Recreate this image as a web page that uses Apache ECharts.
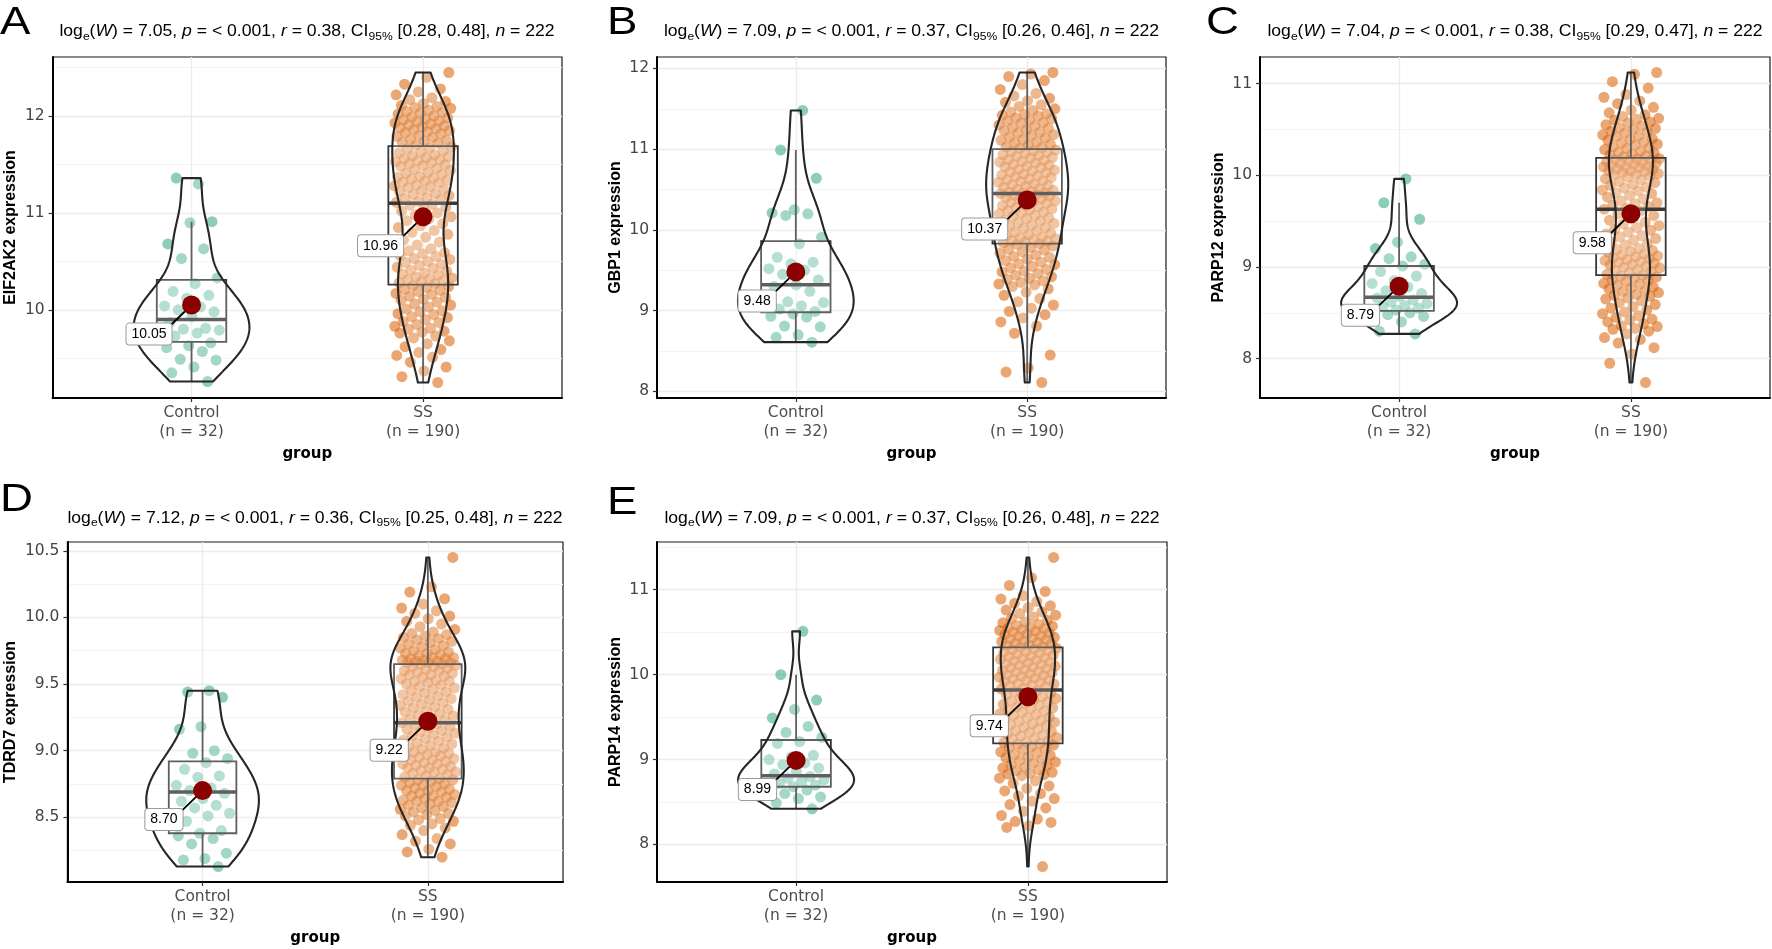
<!DOCTYPE html>
<html><head><meta charset="utf-8">
<script src="https://cdn.jsdelivr.net/npm/echarts@6/dist/echarts.min.js"></script>
<style>html,body{margin:0;padding:0;background:#fff}#chart{width:1772px;height:949px}</style>
</head><body><div id="chart"></div>
<script>
// ---------------- DATA ----------------
const categories = ['Control', 'SS'];
const groupSizes = [32, 190];
const panelLetters = ['A', 'B', 'C', 'D', 'E'];
const genes = ['EIF2AK2', 'GBP1', 'PARP12', 'TDRD7', 'PARP14'];
const statLogW = ['7.05', '7.09', '7.04', '7.12', '7.09'];
const statP = ['< 0.001', '< 0.001', '< 0.001', '< 0.001', '< 0.001'];
const statR = ['0.38', '0.37', '0.38', '0.36', '0.37'];
const statCILow = ['0.28', '0.26', '0.29', '0.25', '0.26'];
const statCIHigh = ['0.48', '0.46', '0.47', '0.48', '0.48'];
const statN = ['222', '222', '222', '222', '222'];

const meanValues = [[10.05, 10.96], [9.48, 10.37], [8.79, 9.58], [8.70, 9.22], [8.99, 9.74]];
const boxQ1 = [[9.67, 10.26], [8.98, 9.83], [8.52, 8.91], [8.38, 8.79], [8.68, 9.19]];
const boxMedian = [[9.90, 11.10], [9.32, 10.45], [8.67, 9.63], [8.69, 9.21], [8.81, 9.82]];
const boxQ3 = [[10.31, 11.69], [9.86, 11.00], [9.01, 10.19], [8.92, 9.65], [9.23, 10.32]];
const whiskerLow = [[9.26, 9.25], [8.61, 8.11], [8.28, 7.74], [8.13, 8.20], [8.42, 7.74]];
const whiskerHigh = [[10.91, 12.45], [10.99, 11.95], [9.70, 11.12], [9.45, 10.45], [10.00, 11.38]];

const yTickLabels = [
  ['10', '11', '12'],
  ['8', '9', '10', '11', '12'],
  ['8', '9', '10', '11'],
  ['8.5', '9.0', '9.5', '10.0', '10.5'],
  ['8', '9', '10', '11']
];
const yMinorBreaks = [
  [9.5, 10.5, 11.5, 12.5],
  [8.5, 9.5, 10.5, 11.5],
  [8.5, 9.5, 10.5],
  [8.25, 8.75, 9.25, 9.75, 10.25],
  [8.5, 9.5, 10.5, 11.5]
];

const eif2ak2Control = [11.30, 11.36, 10.91, 10.90, 10.68, 10.63, 10.53, 10.33, 10.27, 10.19, 10.15, 10.12, 10.04, 10.03, 10.00, 9.98, 9.93, 9.87, 9.81, 9.80, 9.79, 9.76, 9.73, 9.66, 9.63, 9.61, 9.57, 9.49, 9.48, 9.41, 9.35, 9.26];
const eif2ak2SS = [12.45, 12.40, 12.33,
  12.28, 12.25, 12.22, 12.19, 12.17, 12.15, 12.13, 12.11, 12.10,
  12.09, 12.08, 12.06, 12.05, 12.04, 12.03, 12.02, 12.00, 11.99, 11.98, 11.97, 11.96, 11.95, 11.94, 11.93, 11.92, 11.91, 11.90,
  11.89, 11.88, 11.87, 11.86, 11.85, 11.84, 11.83, 11.82, 11.80, 11.79, 11.78, 11.76, 11.75, 11.74, 11.73, 11.72, 11.70,
  11.68, 11.67, 11.66, 11.64, 11.63, 11.62, 11.60, 11.59, 11.58, 11.57, 11.56, 11.55, 11.54, 11.53, 11.52, 11.51, 11.50,
  11.49, 11.48, 11.46, 11.45, 11.44, 11.42, 11.41, 11.40, 11.38, 11.37, 11.36, 11.35, 11.34, 11.33, 11.32, 11.31,
  11.29, 11.28, 11.27, 11.26, 11.24, 11.23, 11.22, 11.20, 11.19, 11.18, 11.16, 11.15, 11.14, 11.12, 11.11,
  11.09, 11.08, 11.06, 11.04, 11.02, 11.00, 10.98, 10.96, 10.94, 10.92,
  10.89, 10.87, 10.85, 10.82, 10.80, 10.78, 10.75, 10.72, 10.70, 10.67, 10.65, 10.63, 10.61,
  10.59, 10.58, 10.56, 10.55, 10.53, 10.52, 10.50, 10.49, 10.47, 10.46, 10.44, 10.43, 10.41, 10.40, 10.38, 10.37, 10.36, 10.34, 10.33, 10.32, 10.31, 10.30, 10.29, 10.28, 10.27,
  10.25, 10.24, 10.23, 10.21, 10.20, 10.19, 10.17, 10.16, 10.14, 10.13, 10.11, 10.10, 10.08, 10.06, 10.05, 10.03, 10.01,
  9.99, 9.98, 9.96, 9.95, 9.93, 9.92, 9.90, 9.88, 9.87, 9.85, 9.83, 9.81, 9.80, 9.78, 9.77, 9.76,
  9.73, 9.71, 9.68, 9.65, 9.62, 9.59, 9.56, 9.53, 9.51,
  9.46, 9.41, 9.37, 9.31, 9.25];

const gbp1Control = [11.48, 10.99, 10.64, 10.25, 10.21, 10.20, 10.18, 9.91, 9.83, 9.66, 9.60, 9.58, 9.52, 9.50, 9.45, 9.38, 9.32, 9.30, 9.24, 9.11, 9.10, 9.06, 9.02, 8.99, 8.96, 8.93, 8.92, 8.81, 8.80, 8.70, 8.67, 8.61];
const gbp1SS = [11.95, 11.93, 11.90, 11.85, 11.80, 11.74,
  11.69, 11.66, 11.63, 11.60, 11.58, 11.55, 11.53, 11.50, 11.48, 11.46, 11.44, 11.43, 11.42, 11.41,
  11.39, 11.38, 11.36, 11.35, 11.33, 11.32, 11.30, 11.29, 11.27, 11.26, 11.24, 11.23, 11.21, 11.20, 11.18, 11.17, 11.15, 11.14, 11.12, 11.11, 11.09, 11.08, 11.06, 11.05, 11.03, 11.02, 11.01,
  10.99, 10.98, 10.97, 10.96, 10.95, 10.93, 10.92, 10.91, 10.90, 10.89, 10.87, 10.86, 10.85, 10.84, 10.83, 10.81, 10.80, 10.79, 10.78, 10.77, 10.75, 10.74, 10.73, 10.72, 10.71, 10.69, 10.68, 10.67, 10.66, 10.65, 10.63, 10.62, 10.61, 10.60, 10.59, 10.57, 10.56, 10.55, 10.54, 10.53, 10.51, 10.50, 10.49, 10.48, 10.47, 10.46, 10.46, 10.45,
  10.44, 10.43, 10.42, 10.41, 10.40, 10.39, 10.38, 10.36, 10.35, 10.34, 10.33, 10.31, 10.30, 10.29, 10.28, 10.26, 10.25, 10.24, 10.22, 10.21, 10.20, 10.18, 10.17, 10.15, 10.14, 10.12, 10.11, 10.09, 10.08, 10.06, 10.05, 10.03, 10.02, 10.00, 9.99, 9.97, 9.96, 9.94, 9.93, 9.91, 9.90, 9.89, 9.88, 9.87, 9.86, 9.85, 9.84, 9.83,
  9.82, 9.80, 9.78, 9.76, 9.75, 9.73, 9.71, 9.69, 9.67, 9.66, 9.64, 9.62, 9.60, 9.58, 9.57, 9.55, 9.53, 9.51, 9.49, 9.48, 9.46, 9.44, 9.42, 9.40, 9.39, 9.37, 9.35, 9.33, 9.32, 9.30,
  9.27, 9.23, 9.19, 9.15, 9.11, 9.07, 9.03, 8.99, 8.95, 8.91, 8.86, 8.81,
  8.72, 8.45, 8.29, 8.24, 8.11];

const parp12Control = [9.96, 9.70, 9.52, 9.27, 9.20, 9.11, 9.09, 9.03, 9.01, 8.95, 8.90, 8.85, 8.82, 8.78, 8.74, 8.71, 8.68, 8.66, 8.64, 8.62, 8.60, 8.58, 8.57, 8.55, 8.53, 8.52, 8.50, 8.48, 8.46, 8.40, 8.30, 8.27];
const parp12SS = [11.12, 11.10, 11.02, 10.95,
  10.88, 10.85, 10.81, 10.78, 10.74, 10.71, 10.68, 10.66, 10.64, 10.62, 10.61, 10.60,
  10.58, 10.57, 10.55, 10.54, 10.52, 10.51, 10.50, 10.48, 10.47, 10.46, 10.44, 10.43, 10.42, 10.40, 10.39, 10.38, 10.36, 10.35, 10.34, 10.33, 10.31, 10.30, 10.29, 10.28, 10.26, 10.25, 10.24, 10.23, 10.22, 10.21, 10.20,
  10.18, 10.18, 10.17, 10.16, 10.16, 10.15, 10.14, 10.13, 10.13, 10.12, 10.11, 10.10, 10.09, 10.09, 10.08, 10.07, 10.06, 10.05, 10.05, 10.04, 10.03, 10.02, 10.01, 10.00,
  9.99, 9.98, 9.96, 9.95, 9.93, 9.92, 9.90, 9.89, 9.87, 9.86, 9.84, 9.83, 9.81, 9.80,
  9.78, 9.76, 9.74, 9.72, 9.70, 9.69, 9.67, 9.66, 9.64, 9.63,
  9.61, 9.58, 9.56, 9.53, 9.51, 9.49, 9.47, 9.45,
  9.43, 9.41, 9.40, 9.38, 9.36, 9.34, 9.33, 9.31, 9.29, 9.27, 9.25, 9.24, 9.22, 9.20,
  9.19, 9.18, 9.17, 9.16, 9.14, 9.13, 9.12, 9.11, 9.10, 9.09, 9.08, 9.07, 9.06, 9.05, 9.04, 9.03, 9.02, 9.01, 9.00, 8.99, 8.97, 8.96, 8.95, 8.94, 8.92, 8.91,
  8.90, 8.89, 8.88, 8.86, 8.85, 8.84, 8.82, 8.81, 8.80, 8.78, 8.77, 8.76, 8.74, 8.73, 8.72, 8.70, 8.69, 8.68, 8.66, 8.65, 8.63, 8.61,
  8.59, 8.57, 8.55, 8.53, 8.51, 8.49, 8.47, 8.45, 8.43, 8.42, 8.40, 8.38, 8.36, 8.35, 8.33, 8.32, 8.30,
  8.27, 8.23, 8.21, 8.17, 8.12, 8.05, 7.95, 7.74];

const tdrd7Control = [9.45, 9.44, 9.40, 9.18, 9.16, 9.00, 8.98, 8.94, 8.91, 8.86, 8.81, 8.80, 8.74, 8.72, 8.70, 8.68, 8.64, 8.62, 8.59, 8.57, 8.53, 8.51, 8.47, 8.40, 8.38, 8.36, 8.34, 8.30, 8.23, 8.19, 8.18, 8.13];
const tdrd7SS = [10.45, 10.23, 10.19, 10.14, 10.10,
  10.07, 10.05, 10.03, 10.01, 9.99, 9.97, 9.95, 9.93, 9.91,
  9.89, 9.88, 9.87, 9.86, 9.85, 9.84, 9.83, 9.82, 9.81, 9.80, 9.79, 9.78, 9.77, 9.76, 9.75, 9.74, 9.73, 9.73, 9.72, 9.71, 9.70, 9.70, 9.69, 9.69, 9.68, 9.68, 9.67, 9.67, 9.66, 9.66, 9.66, 9.65, 9.65,
  9.64, 9.63, 9.63, 9.62, 9.61, 9.60, 9.60, 9.59, 9.58, 9.57, 9.57, 9.56, 9.55, 9.54, 9.53, 9.52, 9.52, 9.51, 9.50, 9.49,
  9.48, 9.47, 9.46, 9.45, 9.44, 9.43, 9.42, 9.41, 9.40, 9.39, 9.38, 9.37, 9.36, 9.35, 9.34, 9.33, 9.32, 9.31, 9.30, 9.29, 9.28, 9.27, 9.26, 9.25, 9.24, 9.23, 9.22, 9.21,
  9.20, 9.19, 9.18, 9.17, 9.16, 9.15, 9.14, 9.13, 9.12, 9.11, 9.10, 9.09, 9.08, 9.07, 9.06, 9.05, 9.04, 9.03, 9.02, 9.01, 9.00,
  8.99, 8.99, 8.98, 8.97, 8.96, 8.96, 8.95, 8.94, 8.93, 8.93, 8.92, 8.91, 8.90, 8.90, 8.89, 8.88, 8.87, 8.87, 8.86, 8.85, 8.84, 8.84, 8.83, 8.82, 8.81, 8.80, 8.79,
  8.78, 8.78, 8.77, 8.76, 8.75, 8.74, 8.74, 8.73, 8.72, 8.71, 8.70, 8.70, 8.69, 8.68, 8.67, 8.66, 8.66, 8.65, 8.64, 8.63, 8.62, 8.62, 8.61, 8.60,
  8.59, 8.58, 8.57, 8.56, 8.55, 8.54, 8.53, 8.52, 8.51, 8.49, 8.48, 8.47, 8.45, 8.44, 8.42, 8.40,
  8.37, 8.34, 8.32, 8.30, 8.26, 8.24, 8.20];

const parp14Control = [10.51, 10.00, 9.70, 9.59, 9.49, 9.39, 9.32, 9.26, 9.21, 9.19, 9.05, 9.03, 9.00, 8.96, 8.94, 8.90, 8.86, 8.83, 8.80, 8.78, 8.76, 8.74, 8.72, 8.70, 8.68, 8.66, 8.64, 8.60, 8.56, 8.54, 8.49, 8.42];
const parp14SS = [11.38, 11.14, 11.05, 10.98, 10.93,
  10.89, 10.86, 10.84, 10.81, 10.79, 10.76, 10.74, 10.72, 10.70, 10.68, 10.66, 10.64, 10.62, 10.61,
  10.59, 10.58, 10.57, 10.56, 10.55, 10.54, 10.53, 10.52, 10.51, 10.50, 10.49, 10.48, 10.47, 10.46, 10.45, 10.44, 10.43, 10.42, 10.41, 10.40, 10.39, 10.38, 10.37, 10.36, 10.35, 10.34, 10.33, 10.32,
  10.31, 10.30, 10.29, 10.28, 10.27, 10.26, 10.25, 10.24, 10.23, 10.22, 10.21, 10.20, 10.19, 10.18, 10.17, 10.16, 10.15, 10.14, 10.13, 10.12, 10.11, 10.10, 10.09, 10.08, 10.07, 10.06, 10.05, 10.04, 10.03, 10.02, 10.01, 10.00, 9.99, 9.98, 9.97, 9.96, 9.95, 9.94, 9.93, 9.92, 9.91, 9.90, 9.89, 9.88, 9.87, 9.86, 9.84, 9.83,
  9.81, 9.80, 9.78, 9.77, 9.76, 9.74, 9.73, 9.72, 9.70, 9.69, 9.68, 9.66, 9.65, 9.64, 9.62, 9.61, 9.60, 9.58, 9.57, 9.56, 9.54, 9.53, 9.52, 9.50, 9.49, 9.48, 9.46, 9.45, 9.44, 9.42, 9.41, 9.40, 9.38, 9.37, 9.36, 9.34, 9.33, 9.32, 9.30, 9.29, 9.28, 9.26, 9.25, 9.24, 9.22, 9.21, 9.20, 9.19,
  9.18, 9.17, 9.15, 9.14, 9.12, 9.11, 9.09, 9.08, 9.06, 9.05, 9.03, 9.02, 9.00, 8.99, 8.97, 8.96, 8.94, 8.93, 8.91, 8.90, 8.88, 8.87, 8.85, 8.84, 8.83, 8.82, 8.81,
  8.78, 8.75, 8.72, 8.69, 8.66, 8.63, 8.60, 8.57, 8.54, 8.51, 8.47, 8.43, 8.39, 8.34, 8.30,
  8.27, 8.26, 8.22, 8.20, 7.74];

const controlValues = [eif2ak2Control, gbp1Control, parp12Control, tdrd7Control, parp14Control];
const ssValues = [eif2ak2SS, gbp1SS, parp12SS, tdrd7SS, parp14SS];

// ---------------- LAYOUT / STYLE ----------------
const FONT = 'Liberation Sans, Arial, Helvetica, sans-serif';
const FONT_WIDE = 'DejaVu Sans, Liberation Sans, sans-serif';
const layout = [
  {left: 52, top: 57, width: 510, height: 341, nameGap: 31},
  {left: 657, top: 57, width: 509, height: 341, nameGap: 31},
  {left: 1260, top: 57, width: 510, height: 341, nameGap: 31},
  {left: 67, top: 542, width: 496, height: 342, nameGap: 45},
  {left: 657, top: 542, width: 510, height: 342, nameGap: 31}
];
const letterPos = [[0, 24], [607, 24], [1206, 24], [0, 501], [607, 504]];
const titleY = [32, 32, 32, 518.5, 518.5];
const groupColors = ['#1B9E77', '#D95F02'];
const groupOpacity = [0.5, 0.55];
const VIOLIN_HALF = 0.25, BOX_HALF = 0.15, JITTER_HALF = 0.125;

function jitter(j) {
  const f = ((j + 1) * 0.6180339887498949) % 1;
  return (f * 2 - 1) * JITTER_HALF;
}
function q7(s, p) {
  const h = (s.length - 1) * p, lo = Math.floor(h), hi = Math.min(lo + 1, s.length - 1);
  return s[lo] + (h - lo) * (s[hi] - s[lo]);
}
function nrd0(vals) {
  const n = vals.length, s = vals.slice().sort((a, b) => a - b);
  const m = s.reduce((a, b) => a + b, 0) / n;
  const sd = Math.sqrt(s.reduce((a, b) => a + (b - m) * (b - m), 0) / (n - 1));
  const iqr = q7(s, 0.75) - q7(s, 0.25);
  let lo = Math.min(sd, iqr / 1.34);
  if (!(lo > 0)) lo = sd || 1;
  return 0.9 * lo * Math.pow(n, -0.2);
}
function densityProfile(vals, steps) {
  const bw = nrd0(vals);
  const mn = Math.min.apply(null, vals), mx = Math.max.apply(null, vals);
  const c = 1 / (vals.length * bw * Math.sqrt(2 * Math.PI));
  const out = [];
  for (let k = 0; k <= steps; k++) {
    const y = mn + (mx - mn) * k / steps;
    let d = 0;
    for (const v of vals) { const z = (y - v) / bw; d += Math.exp(-0.5 * z * z); }
    out.push([y, d * c]);
  }
  return out;
}

function renderBox(params, api) {
  const x = api.value(0);
  const pLo = api.coord([x, api.value(1)]);
  const pQ1 = api.coord([x, api.value(2)]);
  const pMed = api.coord([x, api.value(3)]);
  const pQ3 = api.coord([x, api.value(4)]);
  const pHi = api.coord([x, api.value(5)]);
  const xl = api.coord([x - BOX_HALF, api.value(2)])[0];
  const xr = api.coord([x + BOX_HALF, api.value(2)])[0];
  const st = {stroke: '#383838', lineWidth: 1.8};
  return {type: 'group', children: [
    {type: 'line', shape: {x1: pLo[0], y1: pLo[1], x2: pQ1[0], y2: pQ1[1]}, style: st},
    {type: 'line', shape: {x1: pQ3[0], y1: pQ3[1], x2: pHi[0], y2: pHi[1]}, style: st},
    {type: 'rect', shape: {x: xl, y: pQ3[1], width: xr - xl, height: pQ1[1] - pQ3[1]},
      style: {fill: 'rgba(255,255,255,0.2)', stroke: '#383838', lineWidth: 1.8}},
    {type: 'line', shape: {x1: xl, y1: pMed[1], x2: xr, y2: pMed[1]}, style: {stroke: '#383838', lineWidth: 3.5}}
  ]};
}
function makeViolinRenderer(profiles) {
  return function (params, api) {
    const x = api.value(0), prof = profiles[api.value(1)];
    const pts = [];
    for (let k = 0; k < prof.length; k++) pts.push(api.coord([x + prof[k][1], prof[k][0]]));
    for (let k = prof.length - 1; k >= 0; k--) pts.push(api.coord([x - prof[k][1], prof[k][0]]));
    return {type: 'polygon', shape: {points: pts},
      style: {fill: 'rgba(255,255,255,0.2)', stroke: '#262626', lineWidth: 2.1, lineJoin: 'round'}};
  };
}
function renderMean(params, api) {
  const p = api.coord([api.value(0), api.value(1)]);
  const txt = api.value(1).toFixed(2);
  const lx = p[0] - 20, ly = p[1] + 29;
  return {type: 'group', children: [
    {type: 'line', shape: {x1: p[0], y1: p[1], x2: lx - 10, y2: ly}, style: {stroke: '#000', lineWidth: 1.8}},
    {type: 'text', style: {text: txt, x: lx, y: ly, align: 'right', verticalAlign: 'middle',
      textAlign: 'right', textVerticalAlign: 'middle',
      fill: '#000', fontSize: 14, fontFamily: FONT, backgroundColor: '#fff',
      borderColor: '#9a9a9a', borderWidth: 1, borderRadius: 3, padding: [4, 5, 3, 5]}},
    {type: 'circle', shape: {cx: p[0], cy: p[1], r: 9.5}, style: {fill: '#8B0000'}}
  ]};
}

const grids = [], xAxes = [], yAxes = [], series = [], graphics = [];
for (let i = 0; i < 5; i++) {
  const L = layout[i];
  const ctrl = controlValues[i], ss = ssValues[i];
  const all = ctrl.concat(ss);
  const dmin = Math.min.apply(null, all), dmax = Math.max.apply(null, all);
  const pad = (dmax - dmin) * 0.05;
  const yMin = dmin - pad, yMax = dmax + pad;
  const tickVals = yTickLabels[i].map(Number);

  grids.push({left: L.left, top: L.top, width: L.width, height: L.height, show: true,
    borderColor: '#1a1a1a', borderWidth: 1.2, backgroundColor: 'transparent'});

  xAxes.push({type: 'value', gridIndex: i, min: 0.4, max: 2.6,
    name: 'group', nameLocation: 'middle', nameGap: 46,
    nameTextStyle: {fontSize: 15, fontWeight: 'bold', color: '#000', fontFamily: FONT_WIDE, lineHeight: 20},
    axisLine: {show: true, onZero: false, lineStyle: {color: '#000', width: 2}},
    axisTick: {show: true, customValues: [1, 2], length: 4, lineStyle: {color: '#333', width: 1.2}},
    axisLabel: {customValues: [1, 2], margin: 5, color: '#4d4d4d', fontSize: 15.5, lineHeight: 19.5, fontFamily: FONT_WIDE,
      formatter: function (v) { const g = Math.round(v) - 1; return categories[g] + '\n(n = ' + groupSizes[g] + ')'; }},
    splitLine: {show: true, lineStyle: {color: '#ebebeb', width: 1.3}},
    minorSplitLine: {show: false}
  });

  yAxes.push({type: 'value', gridIndex: i, min: yMin, max: yMax,
    name: genes[i] + ' expression', nameLocation: 'middle', nameGap: L.nameGap, nameRotate: 90,
    nameTextStyle: {fontSize: 16, fontWeight: 'bold', color: '#000', fontFamily: FONT, lineHeight: 20},
    axisLine: {show: true, onZero: false, lineStyle: {color: '#000', width: 2}},
    axisTick: {show: true, customValues: tickVals, length: 4, lineStyle: {color: '#333', width: 1.2}},
    axisLabel: {customValues: tickVals, margin: 8, color: '#444', fontSize: 15.5, fontFamily: FONT_WIDE,
      formatter: function (v) { const k = tickVals.indexOf(v); return k >= 0 ? yTickLabels[i][k] : ''; }},
    splitLine: {show: true, lineStyle: {color: '#ebebeb', width: 1.3}}
  });
  yAxes.push({type: 'value', gridIndex: i, min: yMin, max: yMax,
    axisLine: {show: false}, axisTick: {show: false, customValues: yMinorBreaks[i]},
    axisLabel: {show: false, customValues: yMinorBreaks[i]},
    splitLine: {show: true, lineStyle: {color: '#f4f4f4', width: 1}}
  });

  const yi = 2 * i;
  [ctrl, ss].forEach(function (vals, g) {
    series.push({type: 'scatter', xAxisIndex: i, yAxisIndex: yi, silent: true, z: 2,
      symbolSize: 11, itemStyle: {color: groupColors[g], opacity: groupOpacity[g]},
      data: vals.map(function (v, j) { return [g + 1 + jitter(j + g * 7), v]; })});
  });
  series.push({type: 'custom', xAxisIndex: i, yAxisIndex: yi, silent: true, z: 3, renderItem: renderBox,
    data: [0, 1].map(function (g) { return [g + 1, whiskerLow[i][g], boxQ1[i][g], boxMedian[i][g], boxQ3[i][g], whiskerHigh[i][g]]; })});
  const profC = densityProfile(ctrl, 160), profS = densityProfile(ss, 160);
  let maxD = 0;
  profC.concat(profS).forEach(function (d) { if (d[1] > maxD) maxD = d[1]; });
  const profiles = [profC, profS].map(function (pr) { return pr.map(function (d) { return [d[0], d[1] / maxD * VIOLIN_HALF]; }); });
  series.push({type: 'custom', xAxisIndex: i, yAxisIndex: yi, silent: true, z: 4,
    renderItem: makeViolinRenderer(profiles), data: [[1, 0], [2, 1]]});
  series.push({type: 'custom', xAxisIndex: i, yAxisIndex: yi, silent: true, z: 5,
    renderItem: renderMean, data: [[1, meanValues[i][0]], [2, meanValues[i][1]]]});

  graphics.push({type: 'text', x: letterPos[i][0], y: letterPos[i][1], scaleX: 1.2, silent: true,
    style: {text: panelLetters[i], fontSize: 38, fontFamily: FONT, fill: '#000',
      align: 'left', verticalAlign: 'middle', textAlign: 'left', textVerticalAlign: 'middle'}});
  const titleText = 'log{sub|e}({it|W}) = ' + statLogW[i] + ', {it|p} = ' + statP[i] + ', {it|r} = ' + statR[i] +
    ', CI{sub|95%} [' + statCILow[i] + ', ' + statCIHigh[i] + '], {it|n} = ' + statN[i];
  graphics.push({type: 'text', x: L.left + L.width / 2, y: titleY[i], scaleX: 1.1, silent: true,
    style: {text: titleText, fontSize: 16, fontFamily: FONT, fill: '#000', lineHeight: 20,
      align: 'center', verticalAlign: 'middle', textAlign: 'center', textVerticalAlign: 'middle',
      rich: {
        it: {fontSize: 16, fontStyle: 'italic', fontFamily: FONT, fill: '#000', lineHeight: 20},
        sub: {fontSize: 11, fontFamily: FONT, fill: '#000', verticalAlign: 'bottom', lineHeight: 12}
      }}});
}

const chart = echarts.init(document.getElementById('chart'), null, {renderer: 'canvas'});
chart.setOption({
  animation: false,
  backgroundColor: '#fff',
  grid: grids, xAxis: xAxes, yAxis: yAxes, series: series,
  graphic: {elements: graphics}
});
</script>
</body></html>
